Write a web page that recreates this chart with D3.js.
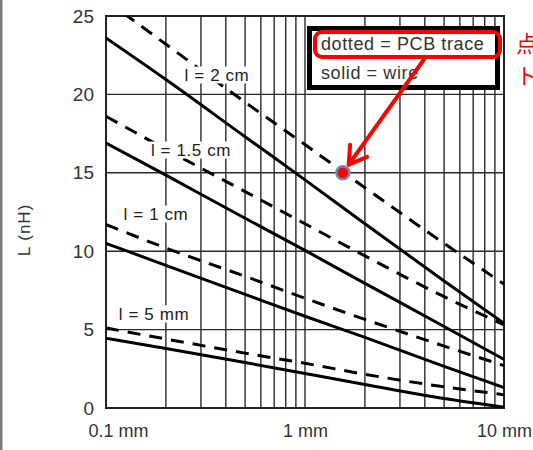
<!DOCTYPE html>
<html>
<head>
<meta charset="utf-8">
<script src="https://cdn.jsdelivr.net/npm/d3@7"></script>
<style>
  body { margin: 0; background: #fff; }
  svg { display: block; font-family: "Liberation Sans", Arial, sans-serif; }
</style>
</head>
<body>
<div id="chart"></div>
<script>
// width / diameter (mm) where values were read
var diam = [0.1, 0.2, 0.5, 1, 2, 5, 10];

// wire inductance (solid), nH
var wire5mm  = [4.45, 3.8, 2.9, 2.2, 1.5, 0.6, 0.05];
var wire1cm  = [10.5, 9.1, 7.25, 5.85, 4.5, 2.65, 1.3];
var wire15cm = [16.9, 14.85, 12.1, 10.05, 7.95, 5.2, 3.1];
var wire2cm  = [23.6, 20.95, 17.3, 14.55, 11.75, 8.1, 5.4];

// PCB trace inductance (dotted), nH
var pcb5mm  = [5.1, 4.4, 3.5, 2.85, 2.15, 1.35, 0.85];
var pcb1cm  = [11.7, 10.2, 8.4, 7.0, 5.65, 3.95, 2.7];
var pcb15cm = [18.6, 16.5, 13.8, 11.75, 9.7, 7.1, 5.3];
var pcb2cm  = [26.0, 23.2, 19.5, 16.8, 14.05, 10.5, 7.9];

var lineLabels = ['l = 5 mm', 'l = 1 cm', 'l = 1.5 cm', 'l = 2 cm'];
var yTicks = [0, 5, 10, 15, 20, 25];
var xTicks = [0.1, 1, 10];
var xTickLabels = ['0.1 mm', '1 mm', '10 mm'];
var marker = {d: 1.55, L: 15};

var width = 533, height = 450;
var plotL = 106, plotR = 504, plotT = 16, plotB = 408;

var svg = d3.select('#chart').append('svg')
  .attr('width', width)
  .attr('height', height);

svg.append('rect').attr('width', width).attr('height', height).attr('fill', '#fff');
// grey edge on the left of the picture
svg.append('rect').attr('x', 0).attr('y', 0).attr('width', 2.5).attr('height', height).attr('fill', '#7a7a7a');

var x = d3.scaleLog().domain([0.1, 10]).range([plotL, plotR]);
var y = d3.scaleLinear().domain([0, 25]).range([plotB, plotT]);

svg.append('clipPath').attr('id', 'plotclip')
  .append('rect').attr('x', plotL).attr('y', plotT)
  .attr('width', plotR - plotL).attr('height', plotB - plotT);

// grid
var gGrid = svg.append('g');
var vGrid = d3.range(1, 10).map(function(k) { return k * 0.1; })
  .concat(d3.range(1, 10))
  .concat([10]);
gGrid.selectAll('.vgrid').data(vGrid).enter().append('line')
  .attr('class', 'vgrid')
  .attr('x1', function(d) { return x(d); })
  .attr('x2', function(d) { return x(d); })
  .attr('y1', plotT).attr('y2', plotB)
  .attr('stroke', '#2a2a2a').attr('stroke-width', 1.4);
gGrid.selectAll('.hgrid').data(yTicks).enter().append('line')
  .attr('class', 'hgrid')
  .attr('x1', plotL).attr('x2', plotR)
  .attr('y1', function(d) { return y(d); })
  .attr('y2', function(d) { return y(d); })
  .attr('stroke', '#2a2a2a').attr('stroke-width', 1.4);

svg.append('rect')
  .attr('x', plotL).attr('y', plotT)
  .attr('width', plotR - plotL).attr('height', plotB - plotT)
  .attr('fill', 'none').attr('stroke', '#222').attr('stroke-width', 2);

// curves
var series = [
  {vals: pcb5mm, dash: true}, {vals: pcb1cm, dash: true},
  {vals: pcb15cm, dash: true}, {vals: pcb2cm, dash: true},
  {vals: wire5mm, dash: false}, {vals: wire1cm, dash: false},
  {vals: wire15cm, dash: false}, {vals: wire2cm, dash: false}
];

var line = d3.line()
  .x(function(d, i) { return x(diam[i]); })
  .y(function(d) { return y(d); })
  .curve(d3.curveMonotoneX);

var gLines = svg.append('g').attr('clip-path', 'url(#plotclip)');
gLines.selectAll('path').data(series).enter().append('path')
  .attr('d', function(s) { return line(s.vals); })
  .attr('fill', 'none')
  .attr('stroke', '#000')
  .attr('stroke-width', 3)
  .attr('stroke-dasharray', function(s) { return s.dash ? '13,9' : null; });

// length labels (sit on white patches over the grid)
var labelPos = [
  {x: 154, y: 314}, {x: 156, y: 214}, {x: 191, y: 150}, {x: 217, y: 75}
];
var gLab = svg.append('g');
lineLabels.forEach(function(t, i) {
  var g = gLab.append('g');
  var txt = g.append('text')
    .attr('x', labelPos[i].x).attr('y', labelPos[i].y)
    .attr('text-anchor', 'middle')
    .attr('dominant-baseline', 'central')
    .attr('font-size', 17)
    .attr('letter-spacing', 0.6)
    .attr('fill', '#222')
    .text(t);
  var bb = txt.node().getBBox();
  g.insert('rect', 'text')
    .attr('x', bb.x - 2).attr('y', bb.y + 1)
    .attr('width', bb.width + 4).attr('height', bb.height - 2)
    .attr('fill', '#fff');
});

// axes
var yAxis = d3.axisLeft(y).tickValues(yTicks).tickSize(0).tickPadding(12);
svg.append('g').attr('transform', 'translate(' + plotL + ',0)')
  .call(yAxis)
  .call(function(g) { g.select('.domain').remove(); })
  .selectAll('text')
  .attr('font-size', 19).attr('fill', '#333')
  .attr('font-family', '"Liberation Sans", Arial, sans-serif');

var xAxis = d3.axisBottom(x).tickValues(xTicks).tickSize(0).tickPadding(16)
  .tickFormat(function(d, i) { return xTickLabels[i]; });
var gx = svg.append('g').attr('transform', 'translate(0,' + plotB + ')')
  .call(xAxis)
  .call(function(g) { g.select('.domain').remove(); });
gx.selectAll('text')
  .attr('font-size', 18).attr('fill', '#333')
  .attr('font-family', '"Liberation Sans", Arial, sans-serif')
  .attr('dx', function(d, i) { return i == 0 ? 12 : 0; });

svg.append('text')
  .attr('transform', 'translate(24,' + 230 + ') rotate(-90)')
  .attr('text-anchor', 'middle')
  .attr('dominant-baseline', 'central')
  .attr('font-size', 17).attr('letter-spacing', 1).attr('fill', '#333')
  .text('L (nH)');

// legend
svg.append('rect')
  .attr('x', 309.5).attr('y', 28.5).attr('width', 188).attr('height', 59)
  .attr('fill', '#fff').attr('stroke', '#000').attr('stroke-width', 5);
svg.append('text').attr('x', 321).attr('y', 50)
  .attr('font-size', 18).attr('letter-spacing', 0.6).attr('fill', '#333').text('dotted = PCB trace');
svg.append('text').attr('x', 321).attr('y', 79)
  .attr('font-size', 18).attr('letter-spacing', 0.6).attr('fill', '#333').text('solid = wire');
svg.append('rect')
  .attr('x', 315).attr('y', 32).attr('width', 185).attr('height', 25)
  .attr('rx', 7)
  .attr('fill', 'none').attr('stroke', '#ff0000').attr('stroke-width', 4);

// red annotation
svg.append('text').attr('x', 516).attr('y', 52)
  .attr('font-size', 22).attr('fill', '#ff0000')
  .attr('font-family', '"Noto Sans CJK JP", sans-serif').text('点');
svg.append('text').attr('x', 516).attr('y', 84)
  .attr('font-size', 22).attr('fill', '#ff0000')
  .attr('font-family', '"Noto Sans CJK JP", sans-serif').text('ト');

var mx = x(marker.d), my = y(marker.L);
var sx = 425, sy = 58;
var ang = Math.atan2(my - sy, mx - sx);
var tipX = mx - 10 * Math.cos(ang), tipY = my - 10 * Math.sin(ang);
svg.append('line')
  .attr('x1', sx).attr('y1', sy).attr('x2', tipX).attr('y2', tipY)
  .attr('stroke', '#ff0000').attr('stroke-width', 4);
[-0.55, 0.55].forEach(function(a) {
  svg.append('line')
    .attr('x1', tipX).attr('y1', tipY)
    .attr('x2', tipX - 20 * Math.cos(ang + a))
    .attr('y2', tipY - 20 * Math.sin(ang + a))
    .attr('stroke', '#ff0000').attr('stroke-width', 4)
    .attr('stroke-linecap', 'round');
});

svg.append('circle')
  .attr('cx', mx).attr('cy', my).attr('r', 6.5)
  .attr('fill', '#ff0000').attr('stroke', '#6a8fae').attr('stroke-width', 2.5);
</script>
</body>
</html>
